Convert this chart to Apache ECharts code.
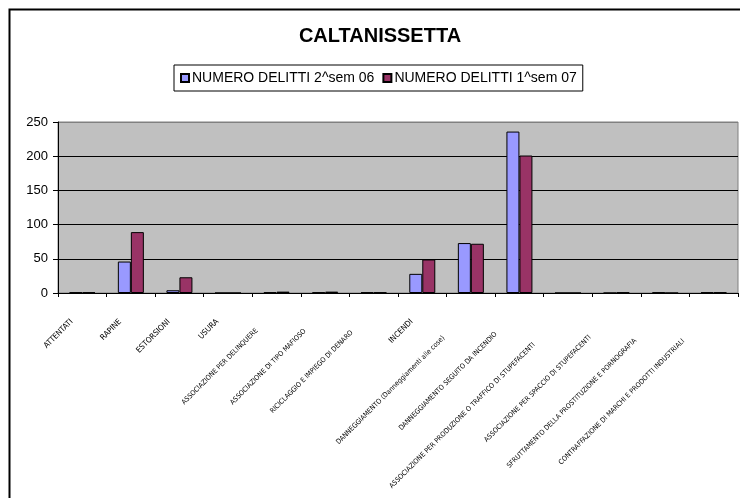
<!DOCTYPE html>
<html>
<head>
<meta charset="utf-8">
<script src="https://cdn.jsdelivr.net/npm/echarts@6/dist/echarts.min.js"></script>
<style>
  html, body { margin: 0; padding: 0; background: #fff; }
  #chart { width: 740px; height: 498px; }
</style>
</head>
<body>
<div id="chart"></div>
<script>
var categories = [
  "ATTENTATI",
  "RAPINE",
  "ESTORSIONI",
  "USURA",
  "ASSOCIAZIONE PER DELINQUERE",
  "ASSOCIAZIONE DI TIPO MAFIOSO",
  "RICICLAGGIO E IMPIEGO DI DENARO",
  "INCENDI",
  "DANNEGGIAMENTO (Danneggiamenti alle cose)",
  "DANNEGGIAMENTO SEGUITO DA INCENDIO",
  "ASSOCIAZIONE PER PRODUZIONE O TRAFFICO DI STUPEFACENTI",
  "ASSOCIAZIONE PER SPACCIO DI STUPEFACENTI",
  "SFRUTTAMENTO DELLA PROSTITUZIONE E PORNOGRAFIA",
  "CONTRAFFAZIONE DI MARCHI E PRODOTTI INDUSTRIALI"
];
var sem2_06 = [1, 46, 4, 0, 1, 1, 1, 28, 73, 236, 0, 0, 1, 1];
var sem1_07 = [1, 89, 23, 0, 2, 2, 1, 49, 72, 201, 0, 1, 0, 1];
var yTicks = [0, 50, 100, 150, 200, 250];

var font = "Arial, 'Liberation Sans', sans-serif";
var narrow = "'Liberation Sans Narrow', 'DejaVu Sans Condensed', 'Liberation Sans', sans-serif";

// longer labels are squeezed and sit further down the axis, as in the original
var rich = {};
categories.forEach(function (c, i) {
  rich["t" + i] = { fontFamily: narrow, fontSize: c.length > 20 ? 7 : 8, color: "#000" };
  rich["s" + i] = { width: 15 + Math.max(0, c.length - 10) * 0.75, fontSize: 8 };
});

var myChart = echarts.init(document.getElementById("chart"));
var option = {
  animation: false,
  backgroundColor: "#fff",
  graphic: [
    {
      type: "rect",
      left: 7,
      top: 7,
      shape: { width: 800, height: 560 },
      style: { fill: "none", stroke: "#000", lineWidth: 2 }
    }
  ],
  title: {
    text: "CALTANISSETTA",
    left: 375,
    textAlign: "center",
    top: 21,
    textStyle: { fontFamily: font, fontSize: 20, fontWeight: "bold", color: "#000" }
  },
  legend: {
    left: 174,
    top: 65,
    padding: [6, 6, 6, 6],
    itemWidth: 8,
    itemHeight: 8,
    itemGap: 8,
    borderColor: "#000",
    borderWidth: 1,
    icon: "rect",
    textStyle: { fontFamily: font, fontSize: 14, color: "#000", padding: [0, 0, 0, -2] }
  },
  grid: {
    left: 58,
    top: 122,
    right: 2,
    bottom: 205,
    outerBoundsMode: "none",
    show: true,
    backgroundColor: "#C0C0C0",
    borderColor: "#808080",
    borderWidth: 1
  },
  xAxis: {
    type: "category",
    data: categories,
    axisLine: { lineStyle: { color: "#000", width: 1 } },
    axisTick: { show: true, length: 4, lineStyle: { color: "#000" } },
    axisLabel: {
      interval: 0,
      rotate: 45,
      margin: 17,
      formatter: function (v, i) {
        return "{t" + i + "|" + v + "}{s" + i + "|\u00a0}";
      },
      rich: rich
    }
  },
  yAxis: {
    type: "value",
    min: yTicks[0],
    max: yTicks[yTicks.length - 1],
    interval: 50,
    axisLine: { show: true, lineStyle: { color: "#000", width: 1 } },
    axisTick: { show: true, length: 5, lineStyle: { color: "#000" } },
    axisLabel: { fontFamily: font, fontSize: 13, color: "#000", margin: 10 },
    splitLine: {
      show: true,
      lineStyle: { color: ["#000", "#000", "#000", "#000", "#000", "#808080"], width: 1 }
    }
  },
  series: [
    {
      name: "NUMERO DELITTI 2^sem 06",
      type: "bar",
      data: sem2_06,
      barWidth: 13,
      barGap: "0%",
      itemStyle: { color: "#9999FF", borderColor: "#000", borderWidth: 1 }
    },
    {
      name: "NUMERO DELITTI 1^sem 07",
      type: "bar",
      data: sem1_07,
      barWidth: 13,
      barGap: "0%",
      itemStyle: { color: "#993366", borderColor: "#000", borderWidth: 1 }
    }
  ]
};
myChart.setOption(option);
</script>
</body>
</html>
